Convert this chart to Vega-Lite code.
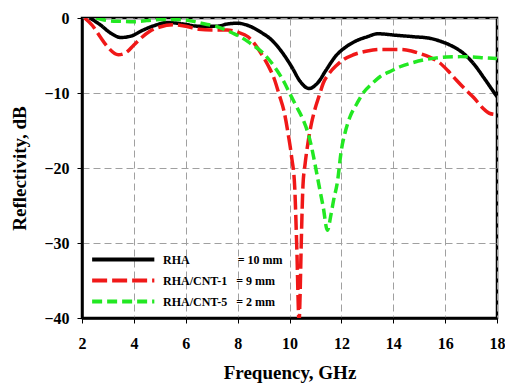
{
  "$schema": "https://vega.github.io/schema/vega-lite/v6.json",
  "autosize": "none",
  "width": 415,
  "height": 300,
  "padding": {"left": 82, "top": 18, "right": 8, "bottom": 69},
  "background": "white",
  "config": {
    "view": {"stroke": "black", "strokeWidth": 2.5},
    "axis": {
      "labelFont": "Liberation Serif",
      "labelFontWeight": "bold",
      "labelFontSize": 16,
      "labelColor": "black",
      "titleFont": "Liberation Serif",
      "titleFontWeight": "bold",
      "titleFontSize": 19,
      "titleColor": "black",
      "domainColor": "black",
      "domainWidth": 2.5,
      "tickColor": "black",
      "tickSize": 5,
      "tickWidth": 1
    }
  },
  "data": {
    "values": [
      {"f": 2.3, "r": 0, "s": "RHA"},
      {"f": 2.7, "r": -0.9, "s": "RHA"},
      {"f": 3.1, "r": -2.0, "s": "RHA"},
      {"f": 3.5, "r": -2.6, "s": "RHA"},
      {"f": 3.9, "r": -2.4, "s": "RHA"},
      {"f": 4.3, "r": -1.7, "s": "RHA"},
      {"f": 4.8, "r": -1.0, "s": "RHA"},
      {"f": 5.3, "r": -0.6, "s": "RHA"},
      {"f": 5.9, "r": -0.8, "s": "RHA"},
      {"f": 6.5, "r": -1.1, "s": "RHA"},
      {"f": 7.2, "r": -1.1, "s": "RHA"},
      {"f": 7.6, "r": -0.8, "s": "RHA"},
      {"f": 8.0, "r": -0.7, "s": "RHA"},
      {"f": 8.4, "r": -1.0, "s": "RHA"},
      {"f": 8.9, "r": -1.9, "s": "RHA"},
      {"f": 9.3, "r": -2.9, "s": "RHA"},
      {"f": 9.7, "r": -4.5, "s": "RHA"},
      {"f": 10.1, "r": -6.6, "s": "RHA"},
      {"f": 10.4, "r": -8.4, "s": "RHA"},
      {"f": 10.75, "r": -9.4, "s": "RHA"},
      {"f": 11.1, "r": -8.6, "s": "RHA"},
      {"f": 11.4, "r": -7.0, "s": "RHA"},
      {"f": 11.8, "r": -5.0, "s": "RHA"},
      {"f": 12.2, "r": -3.8, "s": "RHA"},
      {"f": 12.6, "r": -3.0, "s": "RHA"},
      {"f": 13.0, "r": -2.5, "s": "RHA"},
      {"f": 13.4, "r": -2.1, "s": "RHA"},
      {"f": 14.1, "r": -2.3, "s": "RHA"},
      {"f": 14.8, "r": -2.5, "s": "RHA"},
      {"f": 15.4, "r": -2.7, "s": "RHA"},
      {"f": 15.9, "r": -3.2, "s": "RHA"},
      {"f": 16.3, "r": -3.8, "s": "RHA"},
      {"f": 16.7, "r": -4.7, "s": "RHA"},
      {"f": 17.1, "r": -6.1, "s": "RHA"},
      {"f": 17.5, "r": -8.0, "s": "RHA"},
      {"f": 17.8, "r": -9.5, "s": "RHA"},
      {"f": 18.0, "r": -10.5, "s": "RHA"},

      {"f": 2.1, "r": 0, "s": "RHA/CNT-1"},
      {"f": 2.4, "r": -1.0, "s": "RHA/CNT-1"},
      {"f": 2.7, "r": -2.5, "s": "RHA/CNT-1"},
      {"f": 3.0, "r": -3.9, "s": "RHA/CNT-1"},
      {"f": 3.4, "r": -4.9, "s": "RHA/CNT-1"},
      {"f": 3.7, "r": -4.6, "s": "RHA/CNT-1"},
      {"f": 4.0, "r": -3.6, "s": "RHA/CNT-1"},
      {"f": 4.3, "r": -2.6, "s": "RHA/CNT-1"},
      {"f": 4.6, "r": -1.8, "s": "RHA/CNT-1"},
      {"f": 5.0, "r": -1.2, "s": "RHA/CNT-1"},
      {"f": 5.5, "r": -0.9, "s": "RHA/CNT-1"},
      {"f": 6.0, "r": -1.1, "s": "RHA/CNT-1"},
      {"f": 6.5, "r": -1.5, "s": "RHA/CNT-1"},
      {"f": 7.0, "r": -1.6, "s": "RHA/CNT-1"},
      {"f": 7.6, "r": -1.6, "s": "RHA/CNT-1"},
      {"f": 8.0, "r": -1.9, "s": "RHA/CNT-1"},
      {"f": 8.4, "r": -2.5, "s": "RHA/CNT-1"},
      {"f": 8.9, "r": -4.7, "s": "RHA/CNT-1"},
      {"f": 9.2, "r": -6.5, "s": "RHA/CNT-1"},
      {"f": 9.4, "r": -8.0, "s": "RHA/CNT-1"},
      {"f": 9.6, "r": -10.2, "s": "RHA/CNT-1"},
      {"f": 9.8, "r": -12.6, "s": "RHA/CNT-1"},
      {"f": 9.95, "r": -15.5, "s": "RHA/CNT-1"},
      {"f": 10.08, "r": -18.5, "s": "RHA/CNT-1"},
      {"f": 10.2, "r": -22.5, "s": "RHA/CNT-1"},
      {"f": 10.28, "r": -30.5, "s": "RHA/CNT-1"},
      {"f": 10.37, "r": -40.5, "s": "RHA/CNT-1"},
      {"f": 10.4, "r": -38.0, "s": "RHA/CNT-1"},
      {"f": 10.45, "r": -30.5, "s": "RHA/CNT-1"},
      {"f": 10.52, "r": -22.3, "s": "RHA/CNT-1"},
      {"f": 10.6, "r": -19.5, "s": "RHA/CNT-1"},
      {"f": 10.71, "r": -16.7, "s": "RHA/CNT-1"},
      {"f": 10.85, "r": -14.0, "s": "RHA/CNT-1"},
      {"f": 10.97, "r": -12.3, "s": "RHA/CNT-1"},
      {"f": 11.15, "r": -10.3, "s": "RHA/CNT-1"},
      {"f": 11.3, "r": -8.7, "s": "RHA/CNT-1"},
      {"f": 11.55, "r": -7.3, "s": "RHA/CNT-1"},
      {"f": 11.82, "r": -6.3, "s": "RHA/CNT-1"},
      {"f": 12.1, "r": -5.5, "s": "RHA/CNT-1"},
      {"f": 12.46, "r": -4.9, "s": "RHA/CNT-1"},
      {"f": 13.0, "r": -4.4, "s": "RHA/CNT-1"},
      {"f": 13.5, "r": -4.2, "s": "RHA/CNT-1"},
      {"f": 14.3, "r": -4.2, "s": "RHA/CNT-1"},
      {"f": 14.7, "r": -4.4, "s": "RHA/CNT-1"},
      {"f": 15.0, "r": -4.7, "s": "RHA/CNT-1"},
      {"f": 15.4, "r": -5.2, "s": "RHA/CNT-1"},
      {"f": 15.8, "r": -6.0, "s": "RHA/CNT-1"},
      {"f": 16.1, "r": -7.0, "s": "RHA/CNT-1"},
      {"f": 16.44, "r": -8.3, "s": "RHA/CNT-1"},
      {"f": 16.8, "r": -9.6, "s": "RHA/CNT-1"},
      {"f": 17.1, "r": -10.6, "s": "RHA/CNT-1"},
      {"f": 17.45, "r": -12.0, "s": "RHA/CNT-1"},
      {"f": 17.7, "r": -12.7, "s": "RHA/CNT-1"},
      {"f": 18.0, "r": -12.9, "s": "RHA/CNT-1"},

      {"f": 2.55, "r": 0, "s": "RHA/CNT-5"},
      {"f": 3.0, "r": -0.35, "s": "RHA/CNT-5"},
      {"f": 3.5, "r": -0.45, "s": "RHA/CNT-5"},
      {"f": 4.0, "r": -0.5, "s": "RHA/CNT-5"},
      {"f": 4.5, "r": -0.35, "s": "RHA/CNT-5"},
      {"f": 5.0, "r": -0.2, "s": "RHA/CNT-5"},
      {"f": 5.8, "r": -0.2, "s": "RHA/CNT-5"},
      {"f": 6.3, "r": -0.45, "s": "RHA/CNT-5"},
      {"f": 6.6, "r": -0.7, "s": "RHA/CNT-5"},
      {"f": 7.2, "r": -1.15, "s": "RHA/CNT-5"},
      {"f": 7.8, "r": -2.0, "s": "RHA/CNT-5"},
      {"f": 8.1, "r": -2.5, "s": "RHA/CNT-5"},
      {"f": 8.5, "r": -3.4, "s": "RHA/CNT-5"},
      {"f": 8.86, "r": -4.3, "s": "RHA/CNT-5"},
      {"f": 9.2, "r": -5.5, "s": "RHA/CNT-5"},
      {"f": 9.5, "r": -6.9, "s": "RHA/CNT-5"},
      {"f": 9.8, "r": -8.6, "s": "RHA/CNT-5"},
      {"f": 10.0, "r": -10.0, "s": "RHA/CNT-5"},
      {"f": 10.3, "r": -12.0, "s": "RHA/CNT-5"},
      {"f": 10.53, "r": -13.6, "s": "RHA/CNT-5"},
      {"f": 10.7, "r": -15.2, "s": "RHA/CNT-5"},
      {"f": 10.85, "r": -17.2, "s": "RHA/CNT-5"},
      {"f": 11.0, "r": -19.8, "s": "RHA/CNT-5"},
      {"f": 11.17, "r": -22.9, "s": "RHA/CNT-5"},
      {"f": 11.3, "r": -25.2, "s": "RHA/CNT-5"},
      {"f": 11.46, "r": -28.3, "s": "RHA/CNT-5"},
      {"f": 11.6, "r": -26.2, "s": "RHA/CNT-5"},
      {"f": 11.7, "r": -24.3, "s": "RHA/CNT-5"},
      {"f": 11.85, "r": -21.8, "s": "RHA/CNT-5"},
      {"f": 12.0, "r": -17.6, "s": "RHA/CNT-5"},
      {"f": 12.15, "r": -15.2, "s": "RHA/CNT-5"},
      {"f": 12.33, "r": -13.2, "s": "RHA/CNT-5"},
      {"f": 12.6, "r": -11.4, "s": "RHA/CNT-5"},
      {"f": 12.84, "r": -10.0, "s": "RHA/CNT-5"},
      {"f": 13.2, "r": -8.7, "s": "RHA/CNT-5"},
      {"f": 13.5, "r": -7.8, "s": "RHA/CNT-5"},
      {"f": 13.9, "r": -7.1, "s": "RHA/CNT-5"},
      {"f": 14.26, "r": -6.5, "s": "RHA/CNT-5"},
      {"f": 14.7, "r": -6.0, "s": "RHA/CNT-5"},
      {"f": 15.16, "r": -5.6, "s": "RHA/CNT-5"},
      {"f": 15.6, "r": -5.35, "s": "RHA/CNT-5"},
      {"f": 16.06, "r": -5.2, "s": "RHA/CNT-5"},
      {"f": 16.6, "r": -5.15, "s": "RHA/CNT-5"},
      {"f": 17.08, "r": -5.2, "s": "RHA/CNT-5"},
      {"f": 17.5, "r": -5.3, "s": "RHA/CNT-5"},
      {"f": 18.0, "r": -5.4, "s": "RHA/CNT-5"}
    ]
  },
  "mark": {"type": "line", "interpolate": "monotone", "strokeWidth": 3.5, "clip": true},
  "encoding": {
    "x": {
      "field": "f",
      "type": "quantitative",
      "title": "Frequency, GHz",
      "scale": {"domain": [2, 18], "nice": false, "zero": false},
      "axis": {"grid": true, "gridColor": "#a0a0a0", "gridDash": [7, 4], "gridWidth": 1, "values": [2, 4, 6, 8, 10, 12, 14, 16, 18], "labelPadding": 12, "titlePadding": 12, "labelFlush": false}
    },
    "y": {
      "field": "r",
      "type": "quantitative",
      "title": "Reflectivity, dB",
      "scale": {"domain": [-40, 0], "nice": false, "zero": false},
      "axis": {"grid": true, "gridColor": "#a0a0a0", "gridDash": [7, 4], "gridWidth": 1, "values": [-40, -30, -20, -10, 0], "labelPadding": 8, "titlePadding": 14, "labelFlush": false}
    },
    "color": {
      "field": "s",
      "type": "nominal",
      "scale": {"domain": ["RHA", "RHA/CNT-1", "RHA/CNT-5"], "range": ["#000000", "#f01818", "#22e822"]},
      "legend": {
        "title": null,
        "orient": "bottom-left",
        "offset": 8,
        "symbolType": "M-1,0H5",
        "symbolSize": 430,
        "symbolStrokeWidth": 4,
        "labelFont": "Liberation Serif",
        "labelFontWeight": "bold",
        "labelFontSize": 12,
        "labelColor": "black",
        "labelOffset": 48,
        "rowPadding": 0,
        "labelExpr": "datum.label == 'RHA' ? 'RHA\u00a0\u00a0\u00a0\u00a0\u00a0\u00a0\u00a0\u00a0\u00a0\u00a0\u00a0\u00a0\u00a0\u00a0\u00a0\u00a0= 10 mm' : datum.label == 'RHA/CNT-1' ? 'RHA/CNT-1\u00a0\u00a0\u00a0= 9 mm' : 'RHA/CNT-5\u00a0\u00a0\u00a0= 2 mm'"
      }
    },
    "strokeDash": {
      "field": "s",
      "type": "nominal",
      "scale": {"domain": ["RHA", "RHA/CNT-1", "RHA/CNT-5"], "range": [[1, 0], [15, 5], [10, 5]]},
      "legend": null
    },
    "order": {"field": "f", "type": "quantitative"}
  }
}
